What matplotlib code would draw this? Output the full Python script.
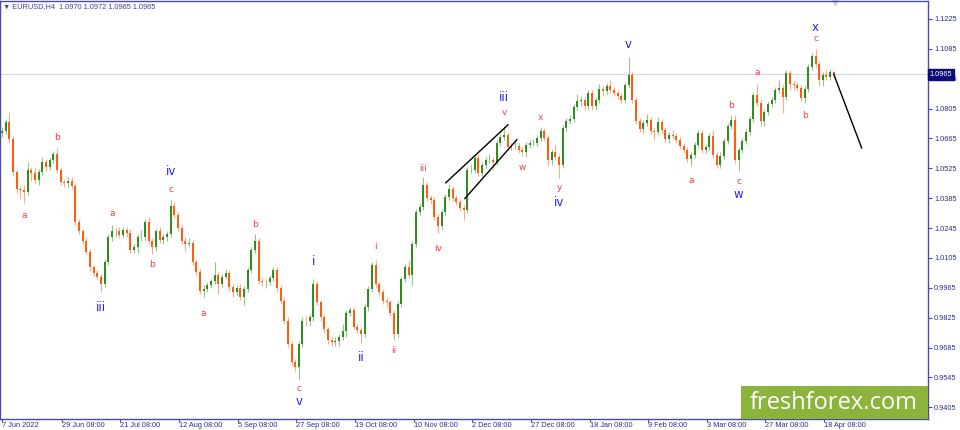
import numpy as np
import matplotlib
matplotlib.use("Agg")
import matplotlib.pyplot as plt
from matplotlib.patches import Rectangle
from matplotlib.transforms import blended_transform_factory

plt.rcParams["font.family"] = ["Liberation Sans", "DejaVu Sans"]

# ==============================
# DATA (EURUSD, one bar per trading day)
# ==============================

first_open = 1.0690

closes = [
    1.0701, 1.0743, 1.0664, 1.0509, 1.0430, 1.0425, 1.0416, 1.0518, 1.0504, 1.0472,
    1.0509, 1.0556, 1.0532, 1.0565, 1.0593, 1.0518, 1.0463, 1.0458, 1.0467, 1.0444,
    1.0275, 1.0229, 1.0186, 1.0135, 1.0064, 1.0036, 1.0017, 0.9981, 1.0088, 1.0201,
    1.0233, 1.0233, 1.0210, 1.0238, 1.0224, 1.0144, 1.0154, 1.0201, 1.0205, 1.0275,
    1.0182, 1.0154, 1.0229, 1.0191, 1.0201, 1.0219, 1.0350, 1.0308, 1.0247, 1.0186,
    1.0168, 1.0177, 1.0088, 1.0041, 0.9952, 0.9957, 0.9976, 0.9995, 1.0027, 0.9981,
    1.0017, 1.0036, 0.9967, 0.9943, 0.9962, 0.9924, 0.9957, 1.0050, 1.0144, 1.0182,
    0.9999, 0.9990, 0.9990, 1.0013, 1.0050, 0.9962, 0.9905, 0.9811, 0.9700, 0.9615,
    0.9592, 0.9700, 0.9811, 0.9807, 0.9826, 0.9981, 0.9896, 0.9826, 0.9770, 0.9718,
    0.9709, 0.9714, 0.9733, 0.9761, 0.9849, 0.9863, 0.9783, 0.9765, 0.9747, 0.9873,
    0.9957, 1.0074, 0.9981, 0.9943, 0.9905, 0.9896, 0.9849, 0.9747, 0.9887, 1.0004,
    1.0064, 1.0027, 1.0168, 1.0322, 1.0345, 1.0449, 1.0388, 1.0378, 1.0298, 1.0256,
    1.0322, 1.0392, 1.0430, 1.0388, 1.0369, 1.0341, 1.0331, 1.0518, 1.0518, 1.0575,
    1.0504, 1.0542, 1.0565, 1.0565, 1.0556, 1.0645, 1.0673, 1.0683, 1.0626, 1.0631,
    1.0631, 1.0612, 1.0603, 1.0636, 1.0645, 1.0645, 1.0668, 1.0701, 1.0668, 1.0565,
    1.0603, 1.0579, 1.0542, 1.0715, 1.0747, 1.0757, 1.0813, 1.0841, 1.0846, 1.0818,
    1.0879, 1.0818, 1.0846, 1.0898, 1.0888, 1.0912, 1.0893, 1.0879, 1.0865, 1.0846,
    1.0917, 1.0963, 1.0846, 1.0747, 1.0710, 1.0738, 1.0752, 1.0701, 1.0697, 1.0743,
    1.0706, 1.0664, 1.0683, 1.0678, 1.0659, 1.0631, 1.0612, 1.0570, 1.0589, 1.0636,
    1.0692, 1.0612, 1.0626, 1.0678, 1.0589, 1.0542, 1.0584, 1.0654, 1.0724, 1.0752,
    1.0565, 1.0612, 1.0654, 1.0697, 1.0757, 1.0870, 1.0832, 1.0747, 1.0790, 1.0827,
    1.0846, 1.0893, 1.0903, 1.0860, 1.0972, 1.0921, 1.0917, 1.0903, 1.0856, 1.0898,
    1.1000, 1.1052, 1.1014, 1.0940, 1.0963, 1.0953, 1.0977, 1.0965,
]

highs = [
    1.0719, 1.0757, 1.0790, 1.0678, 1.0518, 1.0444, 1.0449, 1.0556, 1.0532, 1.0532,
    1.0523, 1.0579, 1.0570, 1.0579, 1.0607, 1.0622, 1.0532, 1.0476, 1.0485, 1.0485,
    1.0458, 1.0289, 1.0242, 1.0201, 1.0149, 1.0074, 1.0050, 1.0031, 1.0102, 1.0215,
    1.0261, 1.0247, 1.0251, 1.0251, 1.0251, 1.0242, 1.0172, 1.0215, 1.0238, 1.0289,
    1.0298, 1.0196, 1.0242, 1.0251, 1.0215, 1.0233, 1.0378, 1.0369, 1.0322, 1.0261,
    1.0201, 1.0196, 1.0191, 1.0102, 1.0055, 0.9976, 0.9990, 1.0008, 1.0088, 1.0041,
    1.0031, 1.0055, 1.0050, 0.9981, 0.9976, 0.9985, 0.9971, 1.0064, 1.0158, 1.0215,
    1.0196, 1.0013, 1.0008, 1.0027, 1.0064, 1.0064, 0.9976, 0.9920, 0.9826, 0.9714,
    0.9629, 0.9714, 0.9826, 0.9835, 0.9844, 1.0004, 0.9995, 0.9910, 0.9840, 0.9783,
    0.9733, 0.9733, 0.9747, 0.9797, 0.9863, 0.9877, 0.9877, 0.9797, 0.9779, 0.9887,
    0.9971, 1.0088, 1.0097, 0.9995, 0.9957, 0.9920, 0.9910, 0.9863, 0.9901, 1.0017,
    1.0078, 1.0097, 1.0182, 1.0336, 1.0364, 1.0485, 1.0463, 1.0402, 1.0392, 1.0312,
    1.0336, 1.0406, 1.0453, 1.0444, 1.0402, 1.0383, 1.0355, 1.0532, 1.0546, 1.0589,
    1.0593, 1.0556, 1.0579, 1.0593, 1.0579, 1.0659, 1.0687, 1.0724, 1.0697, 1.0645,
    1.0659, 1.0645, 1.0626, 1.0650, 1.0659, 1.0664, 1.0683, 1.0719, 1.0715, 1.0683,
    1.0617, 1.0636, 1.0593, 1.0729, 1.0762, 1.0776, 1.0827, 1.0874, 1.0860, 1.0860,
    1.0893, 1.0893, 1.0860, 1.0921, 1.0912, 1.0926, 1.0940, 1.0907, 1.0893, 1.0879,
    1.0931, 1.1047, 1.0977, 1.0860, 1.0762, 1.0752, 1.0780, 1.0766, 1.0715, 1.0766,
    1.0757, 1.0719, 1.0697, 1.0706, 1.0692, 1.0673, 1.0645, 1.0626, 1.0603, 1.0650,
    1.0706, 1.0706, 1.0640, 1.0692, 1.0706, 1.0603, 1.0603, 1.0669, 1.0738, 1.0776,
    1.0776, 1.0626, 1.0669, 1.0710, 1.0771, 1.0884, 1.0921, 1.0846, 1.0804, 1.0841,
    1.0860, 1.0907, 1.0940, 1.0917, 1.0986, 1.0986, 1.0935, 1.0931, 1.0917, 1.0912,
    1.1014, 1.1066, 1.1085, 1.1028, 1.0977, 1.0986, 1.0991, 1.0980,
]

lows = [
    1.0673, 1.0687, 1.0650, 1.0490, 1.0411, 1.0388, 1.0364, 1.0402, 1.0467, 1.0458,
    1.0449, 1.0495, 1.0513, 1.0518, 1.0551, 1.0504, 1.0449, 1.0435, 1.0439, 1.0430,
    1.0261, 1.0215, 1.0172, 1.0121, 1.0045, 1.0022, 1.0004, 0.9943, 0.9967, 1.0074,
    1.0186, 1.0201, 1.0196, 1.0196, 1.0205, 1.0130, 1.0130, 1.0130, 1.0186, 1.0191,
    1.0168, 1.0121, 1.0139, 1.0177, 1.0168, 1.0186, 1.0205, 1.0294, 1.0233, 1.0172,
    1.0139, 1.0154, 1.0074, 1.0027, 0.9934, 0.9920, 0.9943, 0.9962, 0.9981, 0.9934,
    0.9967, 1.0004, 0.9952, 0.9920, 0.9929, 0.9910, 0.9882, 0.9943, 1.0036, 1.0130,
    0.9985, 0.9971, 0.9962, 0.9976, 0.9999, 0.9948, 0.9891, 0.9797, 0.9686, 0.9601,
    0.9573, 0.9531, 0.9686, 0.9788, 0.9788, 0.9811, 0.9882, 0.9807, 0.9751, 0.9700,
    0.9690, 0.9690, 0.9690, 0.9718, 0.9733, 0.9835, 0.9770, 0.9751, 0.9704, 0.9733,
    0.9858, 0.9943, 0.9967, 0.9929, 0.9891, 0.9877, 0.9835, 0.9718, 0.9733, 0.9873,
    0.9990, 1.0013, 0.9976, 1.0154, 1.0308, 1.0331, 1.0373, 1.0359, 1.0284, 1.0224,
    1.0242, 1.0308, 1.0378, 1.0373, 1.0355, 1.0326, 1.0284, 1.0317, 1.0504, 1.0504,
    1.0490, 1.0490, 1.0528, 1.0551, 1.0518, 1.0542, 1.0631, 1.0659, 1.0612, 1.0612,
    1.0617, 1.0598, 1.0584, 1.0579, 1.0622, 1.0631, 1.0631, 1.0654, 1.0654, 1.0537,
    1.0542, 1.0565, 1.0481, 1.0528, 1.0701, 1.0733, 1.0743, 1.0799, 1.0818, 1.0799,
    1.0799, 1.0799, 1.0804, 1.0832, 1.0865, 1.0874, 1.0879, 1.0865, 1.0851, 1.0832,
    1.0832, 1.0903, 1.0832, 1.0733, 1.0697, 1.0692, 1.0724, 1.0687, 1.0659, 1.0683,
    1.0692, 1.0650, 1.0645, 1.0664, 1.0645, 1.0617, 1.0598, 1.0556, 1.0537, 1.0575,
    1.0622, 1.0598, 1.0598, 1.0612, 1.0575, 1.0528, 1.0528, 1.0570, 1.0640, 1.0710,
    1.0551, 1.0513, 1.0598, 1.0640, 1.0683, 1.0743, 1.0818, 1.0724, 1.0724, 1.0776,
    1.0813, 1.0832, 1.0879, 1.0785, 1.0846, 1.0893, 1.0893, 1.0888, 1.0841, 1.0832,
    1.0884, 1.0986, 1.1000, 1.0912, 1.0912, 1.0940, 1.0940, 1.0953,
]

date_labels = [
    "7 Jun 2022", "29 Jun 08:00", "21 Jul 08:00", "12 Aug 08:00", "5 Sep 08:00",
    "27 Sep 08:00", "19 Oct 08:00", "10 Nov 08:00", "2 Dec 08:00", "27 Dec 08:00",
    "18 Jan 08:00", "9 Feb 08:00", "3 Mar 08:00", "27 Mar 08:00", "18 Apr 08:00",
]
days_between_labels = 16

price_ticks = [1.1225, 1.1085, 1.0945, 1.0805, 1.0665, 1.0525, 1.0385,
               1.0245, 1.0105, 0.9965, 0.9825, 0.9685, 0.9545, 0.9405]

header = "\u25bc EURUSD,H4  1.0970 1.0972 1.0965 1.0965"
last_price = 1.0965

# wave marks: (day, text, level, anchor, offset px)
waves = [
    (6, "a", "minor", "low", 8),
    (15, "b", "minor", "high", 6),
    (27, "iii", "major", "low", 9),
    (30, "a", "minor", "high", 7),
    (41, "b", "minor", "low", 6),
    (46, "c", "minor", "high", 6),
    (46, "iv", "major", "high", 22),
    (55, "a", "minor", "low", 12),
    (69, "b", "minor", "high", 5),
    (81, "c", "minor", "low", 4),
    (81, "v", "major", "low", 15),
    (85, "i", "major", "high", 11),
    (98, "ii", "major", "low", 8),
    (102, "i", "minor", "high", 9),
    (107, "ii", "minor", "low", 6),
    (115, "iii", "minor", "high", 4),
    (119, "iv", "minor", "low", 11),
    (137, "iii", "major", "high", 22),
    (137, "v", "minor", "high", 9),
    (142, "w", "minor", "low", 7),
    (147, "x", "minor", "high", 5),
    (152, "y", "minor", "low", 5),
    (152, "iv", "major", "low", 18),
    (171, "v", "major", "high", 6),
    (188, "a", "minor", "low", 10),
    (199, "b", "minor", "high", 5),
    (201, "c", "minor", "low", 6),
    (201, "w", "major", "low", 17),
    (206, "a", "minor", "high", 7),
    (219, "b", "minor", "low", 8),
    (222, "c", "minor", "high", 6),
    (222, "x", "major", "high", 15),
]

# wedge trend lines and forecast (day, price)
wedge_upper = [(121.1, 1.0457), (138.1, 1.0729)]
wedge_lower = [(126.3, 1.0383), (140.5, 1.0659)]
forecast_end = (234.6, 1.0620)

# ==============================
# STYLE
# ==============================

BULL = "#2e8a1c"
BEAR = "#ff5a0a"
RED = "#ff3a3a"
BLUE = "#2424f0"
NAVY = "#2e2e8c"
FRAME = "#4a4aa8"

# ==============================
# FIGURE
# ==============================

fig = plt.figure(figsize=(9.6, 4.3), dpi=100)
ax = fig.add_axes([0, 11 / 430, 928 / 960, 418 / 430])

closes = np.array(closes)
opens = np.concatenate([[first_open], closes[:-1]])
highs = np.maximum(np.array(highs), np.maximum(opens, closes))
lows = np.minimum(np.array(lows), np.minimum(opens, closes))
days = np.arange(len(closes))
up = closes >= opens
colors = np.where(up, BULL, BEAR)

ax.axhline(last_price, color="#d8d8d8", lw=0.8, zorder=0)

ax.vlines(days, lows, highs, colors=colors, lw=0.8, alpha=0.5, zorder=2)
ax.vlines(days, opens, closes, colors=colors, lw=1.4, zorder=3)

for line in (wedge_upper, wedge_lower):
    xs, ys = zip(*line)
    ax.plot(xs, ys, color="black", lw=1.0, zorder=4)

ax.plot([days[-1], forecast_end[0]], [closes[-1], forecast_end[1]],
        color="black", lw=1.0, zorder=4)

for day, text, level, anchor, off in waves:
    if anchor == "high":
        y = highs[day]
        dy = off
        va = "bottom"
    else:
        y = lows[day]
        dy = -off
        va = "top"
    color = BLUE if level == "major" else RED
    size = 8.5 if level == "major" else 6.5
    ax.annotate(text, (day, y), xytext=(0, dy), textcoords="offset pixels",
                ha="center", va=va, color=color, fontsize=size,
                family=["DejaVu Sans"], zorder=5)

ax.set_xlim(-0.55, 252.7)
ax.set_ylim(0.9350, 1.1309)

# small chart-shift marker at the top
ax.plot([days[-1] + 0.3], [1.1305], marker="v", ms=5, color="#cfcfcf",
        clip_on=False, zorder=1)

# x axis
tick_days = [i * days_between_labels + 1 / 3 for i in range(len(date_labels))]
tick_days[0] = 0
ax.set_xticks(tick_days)
ax.set_xticklabels(date_labels, fontsize=5.3, color=NAVY)
for lab in ax.get_xticklabels():
    lab.set_horizontalalignment("left")
ax.tick_params(axis="x", length=2.2, width=0.8, color=FRAME, pad=0.2)

# y axis on the right
ax.yaxis.tick_right()
ax.set_yticks(price_ticks)
ax.set_yticklabels([f"{p:.4f}" for p in price_ticks], fontsize=5.3, color=NAVY)
ax.tick_params(axis="y", length=3, width=0.8, color=FRAME, pad=1.5)

for side in ["left", "right", "top", "bottom"]:
    ax.spines[side].set_color(FRAME)
    ax.spines[side].set_linewidth(1.0)

# current price tag
tr = blended_transform_factory(ax.transAxes, ax.transData)
ax.text(1.002, last_price, f"{last_price:.4f}", transform=tr, fontsize=5.3,
        color="white", va="center", ha="left", zorder=6,
        bbox=dict(boxstyle="square,pad=0.25", fc="#0a0a78", ec="#0a0a78"))

# header
ax.text(0.003, 0.995, header, transform=ax.transAxes, fontsize=5.3,
        color="#40409a", va="top", ha="left")

# watermark
fig.patches.append(Rectangle((741 / 960, 11 / 430), 187 / 960, 33 / 430,
                             transform=fig.transFigure, fc="#8cb43c", ec="none",
                             zorder=10))
fig.text(834 / 960, 27 / 430, "freshforex.com", color="white", fontsize=17,
         family=["Open Sans", "DejaVu Sans"], ha="center", va="center", zorder=11)

fig.savefig("out.png", dpi=100)
